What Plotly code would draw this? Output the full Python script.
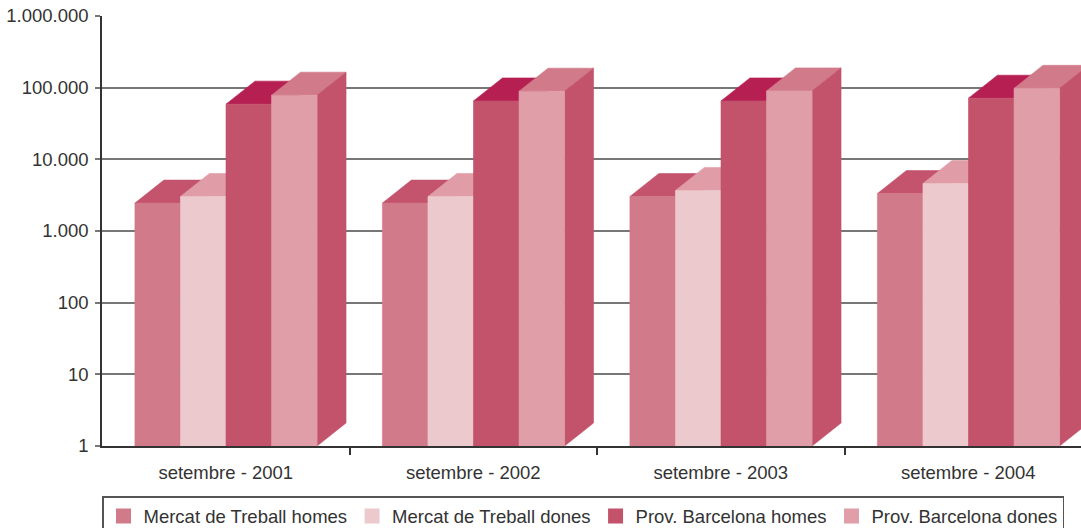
import plotly.graph_objects as go

categories = ["setembre - 2001", "setembre - 2002", "setembre - 2003", "setembre - 2004"]
series_names = [
    "Mercat de Treball homes",
    "Mercat de Treball dones",
    "Prov. Barcelona homes",
    "Prov. Barcelona dones",
]
mercat_homes = [2450, 2450, 3030, 3330]
mercat_dones = [3030, 3030, 3680, 4600]
prov_homes = [58900, 65300, 65300, 71300]
prov_dones = [78500, 89300, 90200, 98000]

y_tickvals = [1, 10, 100, 1000, 10000, 100000, 1000000]
y_ticktext = ["1", "10", "100", "1.000", "10.000", "100.000", "1.000.000"]

# front, top, side colours per series
palette = [
    ("#D17A89", "#C4546D", "#C4546D"),
    ("#ECC9CD", "#E09DA7", "#E09DA7"),
    ("#C2536B", "#B51F52", "#B51F52"),
    ("#E09EA8", "#D17A89", "#C2536B"),
]

# fake-3D geometry (x in category units, depth as a log-axis factor)
BAR_W = 0.184
BAR_START = 0.133
DX = 0.117
DEPTH = 10 ** (23 / 71.67)
FONT = "Liberation Sans, Arial, sans-serif"


def faces(values, j):
    fx, fy, tx, ty, sx, sy = [], [], [], [], [], []
    for g, v in enumerate(values):
        xl = g + BAR_START + j * BAR_W
        xr = xl + BAR_W
        fx += [xl, xr, xr, xl, xl, None]
        fy += [1, 1, v, v, 1, None]
        tx += [xl, xl + DX, xr + DX, xr, xl, None]
        ty += [v, v * DEPTH, v * DEPTH, v, v, None]
        sx += [xr, xr + DX, xr + DX, xr, xr, None]
        sy += [1, DEPTH, v * DEPTH, v, 1, None]
    return (fx, fy), (tx, ty), (sx, sy)


def polygon(xy, color):
    return go.Scatter(
        x=xy[0], y=xy[1], mode="lines", fill="toself", fillcolor=color,
        line=dict(color=color, width=0.6), showlegend=False, hoverinfo="skip",
    )


fig = go.Figure()
all_series = [mercat_homes, mercat_dones, prov_homes, prov_dones]
for j, values in enumerate(all_series):
    front, top, side = faces(values, j)
    c_front, c_top, c_side = palette[j]
    fig.add_trace(polygon(top, c_top))
    fig.add_trace(polygon(side, c_side))
    fig.add_trace(polygon(front, c_front))

for j, name in enumerate(series_names):
    fig.add_trace(go.Scatter(
        x=[None], y=[None], mode="markers", name=name,
        marker=dict(symbol="square", size=15, color=palette[j][0]),
    ))

fig.update_layout(
    width=1081, height=528,
    margin=dict(l=102, r=0, t=16, b=82, autoexpand=False),
    paper_bgcolor="white", plot_bgcolor="white",
    font=dict(family=FONT, size=18.5, color="#333333"),
    showlegend=True,
    legend=dict(
        orientation="h", xref="container", yref="container",
        x=102 / 1081, xanchor="left", y=1 - 496 / 528, yanchor="top",
        bordercolor="#555555", borderwidth=1.5, font=dict(size=18.5),
        itemclick=False, itemdoubleclick=False,
    ),
    xaxis=dict(
        range=[0, 979 / 247.5], showgrid=False, zeroline=False,
        showline=True, linecolor="#333333", linewidth=1.5,
        tickvals=[g + 0.5 for g in range(len(categories))], ticktext=categories,
        tickfont=dict(size=18.5),
        ticks="", ticklabelstandoff=9, automargin=False,
        minor=dict(ticks="outside", ticklen=7, tickcolor="#333333", tickwidth=1.5,
                   tickmode="array", tickvals=[1, 2, 3], showgrid=False),
    ),
    yaxis=dict(
        type="log", range=[0, 6], zeroline=False,
        showline=True, linecolor="#333333", linewidth=1.5,
        showgrid=True, gridcolor="#777777", gridwidth=1.5,
        tickvals=y_tickvals, ticktext=y_ticktext, tickfont=dict(size=18.5),
        ticks="outside", ticklen=5, tickcolor="#777777", tickwidth=1.5,
        ticklabelstandoff=3, automargin=False,
    ),
)

# drop the browser's default page margin so the figure sits at the window origin
fig.write_html(
    "out.html",
    config={"displayModeBar": False},
    post_script="document.body.style.margin='0';",
)
